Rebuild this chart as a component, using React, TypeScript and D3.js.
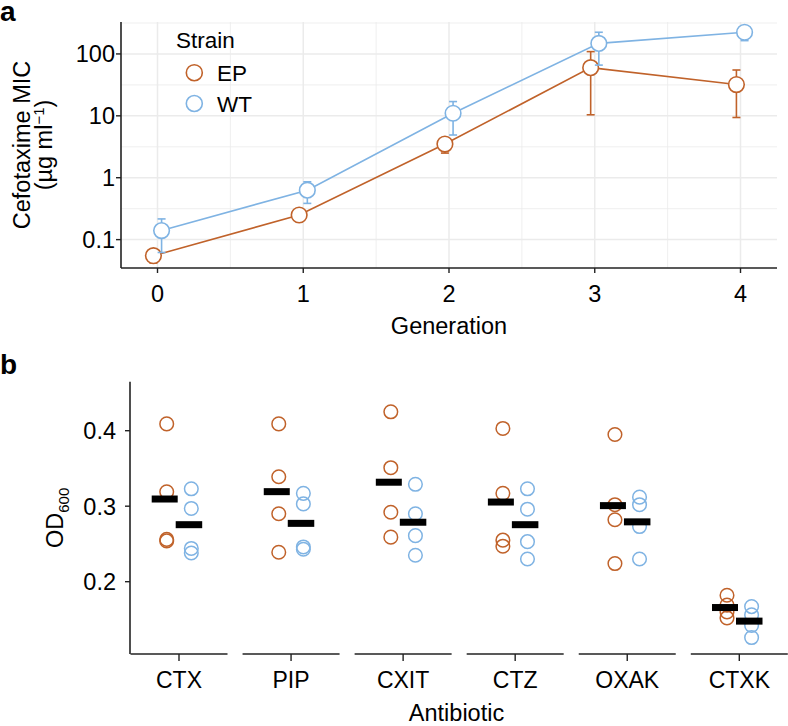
import React from "react";
import * as d3 from "d3";

// ---------- Panel a data ----------
const generations = [0, 1, 2, 3, 4];
const epMic = [0.055, 0.25, 3.5, 60, 32];
const epLow = [0.042, 0.24, 2.5, 10.4, 9.4];
const epHigh = [0.062, 0.27, 3.9, 109, 55];
const wtMic = [0.14, 0.63, 11, 148, 224];
const wtLow = [0.062, 0.385, 4.9, 66, 164];
const wtHigh = [0.216, 0.86, 17, 224, 250];
const micTicks = [0.1, 1, 10, 100];
const micTickLabels = ["0.1", "1", "10", "100"];
const micMinor = [0.0316, 0.316, 3.16, 31.6, 316];

// ---------- Panel b data ----------
const antibiotics = ["CTX", "PIP", "CXIT", "CTZ", "OXAK", "CTXK"];
const epOD = [
  [0.409, 0.319, 0.256, 0.254],
  [0.409, 0.339, 0.29, 0.239],
  [0.425, 0.351, 0.292, 0.259],
  [0.403, 0.317, 0.255, 0.247],
  [0.395, 0.302, 0.282, 0.224],
  [0.182, 0.169, 0.16, 0.152],
];
const wtOD = [
  [0.323, 0.297, 0.244, 0.238],
  [0.317, 0.303, 0.246, 0.243],
  [0.329, 0.29, 0.261, 0.235],
  [0.323, 0.296, 0.253, 0.23],
  [0.312, 0.302, 0.273, 0.23],
  [0.167, 0.156, 0.142, 0.126],
];
const odTicks = [0.2, 0.3, 0.4];

const EP_COL = "#C0622A";
const WT_COL = "#7FB3E3";
const FONT = "'Liberation Sans', Arial, Helvetica, sans-serif";
const AXIS_COL = "#222";
const GRID = "#EBEBEB";

export default function App() {
  // Panel a scales
  const ax0 = 121, ax1 = 777, ay0 = 22, ay1 = 268;
  const x = d3.scaleLinear().domain([0, 4]).range([157.5, 740.5]);
  const y = d3.scaleLog().domain([0.0348, 328]).range([ay1, ay0]);
  const dodge = 0.028;
  const line = d3
    .line<[number, number]>()
    .x((d) => x(d[0]))
    .y((d) => y(d[1]));

  const series = [
    { name: "EP", col: EP_COL, mic: epMic, lo: epLow, hi: epHigh, off: -dodge },
    { name: "WT", col: WT_COL, mic: wtMic, lo: wtLow, hi: wtHigh, off: dodge },
  ];

  // Panel b scales
  const bx0 = 130, by0 = 381.7, by1 = 654;
  const xb = d3.scalePoint<string>().domain(antibiotics).range([179, 739.3]);
  const yb = d3.scaleLinear().domain([0.1042, 0.4649]).range([by1, by0]);
  const half = 48.5;

  return (
    <svg
      width={788}
      height={726}
      style={{ position: "absolute", left: 0, top: 0, background: "#fff" }}
      fontFamily={FONT}
    >
      <rect width={788} height={726} fill="#fff" />
      {/* ---------------- Panel a ---------------- */}
      <text x={0} y={21} fontSize={28} fontWeight="bold">a</text>
      <g>
        {micMinor.filter((v) => y(v) >= ay0 - 0.5 && y(v) <= ay1).map((v) => (
          <line key={"mh" + v} x1={ax0} x2={ax1} y1={y(v)} y2={y(v)} stroke={GRID} strokeWidth={0.8} />
        ))}
        {[0.5, 1.5, 2.5, 3.5].map((v) => (
          <line key={"mv" + v} x1={x(v)} x2={x(v)} y1={ay0} y2={ay1} stroke={GRID} strokeWidth={0.8} />
        ))}
        {micTicks.map((v) => (
          <line key={"gh" + v} x1={ax0} x2={ax1} y1={y(v)} y2={y(v)} stroke={GRID} strokeWidth={1.5} />
        ))}
        {generations.map((v) => (
          <line key={"gv" + v} x1={x(v)} x2={x(v)} y1={ay0} y2={ay1} stroke={GRID} strokeWidth={1.5} />
        ))}
      </g>
      {series.map((s) => (
        <g key={s.name}>
          <path
            d={line(generations.map((g, i) => [g + s.off, s.mic[i]]) as [number, number][]) || ""}
            fill="none"
            stroke={s.col}
            strokeWidth={1.6}
          />
          {generations.map((g, i) => {
            const cx = x(g + s.off);
            return (
              <g key={i} stroke={s.col} strokeWidth={1.6}>
                <line x1={cx} x2={cx} y1={y(s.lo[i])} y2={y(s.hi[i])} />
                <line x1={cx - 4} x2={cx + 4} y1={y(s.lo[i])} y2={y(s.lo[i])} />
                <line x1={cx - 4} x2={cx + 4} y1={y(s.hi[i])} y2={y(s.hi[i])} />
              </g>
            );
          })}
          {generations.map((g, i) => (
            <circle key={"p" + i} cx={x(g + s.off)} cy={y(s.mic[i])} r={7.8} fill="#fff" stroke={s.col} strokeWidth={1.6} />
          ))}
        </g>
      ))}
      {/* axes a */}
      <line x1={ax0} x2={ax0} y1={ay0} y2={ay1} stroke={AXIS_COL} strokeWidth={1.6} />
      <line x1={ax0} x2={ax1} y1={ay1} y2={ay1} stroke={AXIS_COL} strokeWidth={1.6} />
      {micTicks.map((v, i) => (
        <g key={"yt" + v}>
          <line x1={ax0 - 5} x2={ax0} y1={y(v)} y2={y(v)} stroke={AXIS_COL} strokeWidth={1.4} />
          <text x={ax0 - 6} y={y(v) + 8.5} fontSize={23.5} textAnchor="end">{micTickLabels[i]}</text>
        </g>
      ))}
      {generations.map((g) => (
        <g key={"xt" + g}>
          <line x1={x(g)} x2={x(g)} y1={ay1} y2={ay1 + 5} stroke={AXIS_COL} strokeWidth={1.4} />
          <text x={x(g)} y={302} fontSize={23.5} textAnchor="middle">{g}</text>
        </g>
      ))}
      <text x={(ax0 + ax1) / 2} y={334} fontSize={23.5} textAnchor="middle">Generation</text>
      <g transform={`translate(30,${(ay0 + ay1) / 2}) rotate(-90)`}>
        <text x={0} y={0} fontSize={23.5} textAnchor="middle">Cefotaxime MIC</text>
        <text x={0} y={22} fontSize={23.5} textAnchor="middle">
          (µg ml<tspan dy={-8} fontSize={15}>−1</tspan><tspan dy={8}>)</tspan>
        </text>
      </g>
      {/* legend */}
      <text x={176} y={48} fontSize={22.5}>Strain</text>
      <circle cx={194.3} cy={72.7} r={8} fill="none" stroke={EP_COL} strokeWidth={1.6} />
      <text x={217} y={81} fontSize={22.5}>EP</text>
      <circle cx={194.3} cy={103.5} r={8} fill="none" stroke={WT_COL} strokeWidth={1.6} />
      <text x={217} y={111.5} fontSize={22.5}>WT</text>

      {/* ---------------- Panel b ---------------- */}
      <text x={0} y={374} fontSize={28} fontWeight="bold">b</text>
      {antibiotics.map((a, i) => {
        const cx = xb(a) as number;
        const epMean = d3.mean(epOD[i]) as number;
        const wtMean = d3.mean(wtOD[i]) as number;
        return (
          <g key={a}>
            {epOD[i].map((v, j) => (
              <circle key={"e" + j} cx={cx - 12.3} cy={yb(v)} r={6.8} fill="none" stroke={EP_COL} strokeWidth={1.5} />
            ))}
            {wtOD[i].map((v, j) => (
              <circle key={"w" + j} cx={cx + 12.3} cy={yb(v)} r={6.8} fill="none" stroke={WT_COL} strokeWidth={1.5} />
            ))}
            <rect x={cx - 27.3} y={yb(epMean) - 3.5} width={26} height={7} fill="#000" />
            <rect x={cx - 3.3} y={yb(wtMean) - 3.5} width={26.5} height={7} fill="#000" />
            <line x1={cx - half} x2={cx + half} y1={by1} y2={by1} stroke={AXIS_COL} strokeWidth={1.6} />
            <line x1={cx} x2={cx} y1={by1} y2={by1 + 7} stroke={AXIS_COL} strokeWidth={1.4} />
            <text x={cx} y={688} fontSize={23} textAnchor="middle">{a}</text>
          </g>
        );
      })}
      <line x1={bx0} x2={bx0} y1={by0} y2={by1} stroke={AXIS_COL} strokeWidth={1.6} />
      {odTicks.map((v) => (
        <g key={"ot" + v}>
          <line x1={bx0 - 5} x2={bx0} y1={yb(v)} y2={yb(v)} stroke={AXIS_COL} strokeWidth={1.4} />
          <text x={bx0 - 14} y={yb(v) + 8.5} fontSize={23.5} textAnchor="end">{v.toFixed(1)}</text>
        </g>
      ))}
      <text x={456.5} y={721} fontSize={23.5} textAnchor="middle">Antibiotic</text>
      <g transform={`translate(63,${(by0 + by1) / 2}) rotate(-90)`}>
        <text x={0} y={0} fontSize={23.5} textAnchor="middle">
          OD<tspan dy={6} fontSize={15}>600</tspan>
        </text>
      </g>
    </svg>
  );
}
